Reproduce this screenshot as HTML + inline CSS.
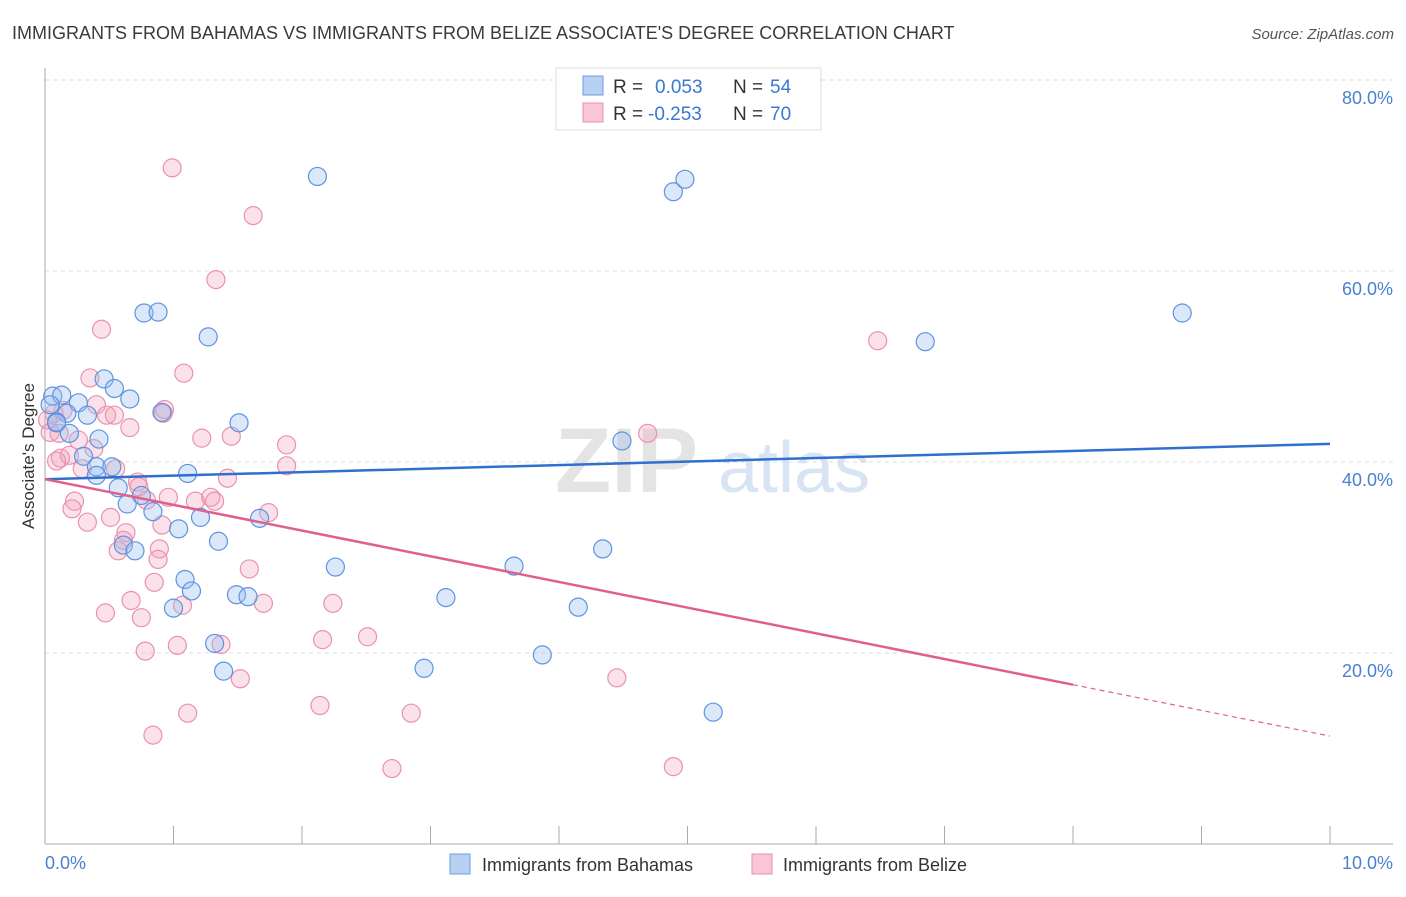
<!DOCTYPE html>
<html><head><meta charset="utf-8"><style>
body{margin:0;background:#fff;font-family:"Liberation Sans",sans-serif}
svg text{font-family:"Liberation Sans",sans-serif}
</style></head><body>
<svg id="chart" width="1406" height="892" xmlns="http://www.w3.org/2000/svg">
<text x="12" y="39" font-size="18" fill="#3a3a3a">IMMIGRANTS FROM BAHAMAS VS IMMIGRANTS FROM BELIZE ASSOCIATE'S DEGREE CORRELATION CHART</text>
<text x="1394" y="39" font-size="15" fill="#555" text-anchor="end" font-style="italic">Source: ZipAtlas.com</text>
<g>
<text x="555" y="492" font-size="92" fill="#e4e4e4" font-family="Liberation Serif" font-weight="bold">ZIP</text>
<text x="718" y="492" font-size="72" fill="#d8e4f4">atlas</text>
</g>
<g id="grid"></g>
<g id="axes"></g>
<g id="pts"></g>
<g id="trends"></g>
<text transform="translate(34,456) rotate(-90)" font-size="17" fill="#333" text-anchor="middle">Associate's Degree</text>
<g>
<rect x="556" y="68" width="265" height="62" fill="#fff" stroke="#ddd"/>
<rect x="583" y="76" width="20" height="19" fill="#b8d1f3" stroke="#6d9be0"/>
<rect x="583" y="103" width="20" height="19" fill="#f8c6d4" stroke="#e890aa"/>
<text x="613" y="93" font-size="19" fill="#333">R = </text>
<text x="655" y="93" font-size="19" fill="#3a78d4">0.053</text>
<text x="733" y="93" font-size="19" fill="#333">N = </text>
<text x="770" y="93" font-size="19" fill="#3a78d4">54</text>
<text x="613" y="120" font-size="19" fill="#333">R = </text>
<text x="648" y="120" font-size="19" fill="#3a78d4">-0.253</text>
<text x="733" y="120" font-size="19" fill="#333">N = </text>
<text x="770" y="120" font-size="19" fill="#3a78d4">70</text>
</g>
<g>
<rect x="450" y="854" width="20" height="20" fill="#b8d1f3" stroke="#6d9be0"/>
<text x="482" y="871" font-size="18" fill="#333">Immigrants from Bahamas</text>
<rect x="752" y="854" width="20" height="20" fill="#f8c6d4" stroke="#e890aa"/>
<text x="783" y="871" font-size="18" fill="#333">Immigrants from Belize</text>
</g>
</svg>
<script>
const xTicks=[0,1,2,3,4,5,6,7,8,9,10];
const yTicks=[20,40,60,80];
const yTickLabels=["20.0%","40.0%","60.0%","80.0%"];
const xLabels=["0.0%","10.0%"];
const bahamasX=[2.12,4.89,4.98,8.85,6.85,0.77,0.88,1.27,0.46,0.54,0.66,0.06,0.13,0.04,0.26,0.33,0.17,0.09,0.91,1.51,0.19,0.42,4.49,0.09,0.30,0.40,0.52,0.40,1.11,0.57,0.75,0.64,0.84,1.21,1.67,1.04,0.61,0.70,1.35,2.26,3.65,4.34,1.09,1.14,1.49,1.58,1.00,3.12,4.15,1.32,1.39,3.87,2.95,5.20];
const bahamasY=[69.9,68.3,69.6,55.6,52.6,55.6,55.7,53.1,48.7,47.7,46.6,46.9,47.0,46.0,46.2,44.9,45.1,44.2,45.2,44.1,43.0,42.4,42.2,44.1,40.6,39.5,39.5,38.6,38.8,37.3,36.5,35.6,34.8,34.2,34.1,33.0,31.3,30.7,31.7,29.0,29.1,30.9,27.7,26.5,26.1,25.9,24.7,25.8,24.8,21.0,18.1,19.8,18.4,13.8];
const belizeX=[0.99,1.62,1.33,6.48,0.44,0.35,1.08,0.14,0.40,0.48,0.54,0.93,0.92,0.07,0.02,0.04,0.11,0.66,1.22,1.45,1.88,4.69,0.26,0.38,0.12,0.19,0.09,0.29,0.55,1.88,1.42,0.72,0.73,0.23,0.21,0.79,0.96,1.17,1.29,1.32,1.74,0.51,0.33,0.91,0.63,0.61,0.57,0.89,0.88,0.85,1.59,0.67,0.47,0.75,1.07,1.70,2.24,0.78,1.03,1.37,2.16,2.51,1.52,4.45,1.11,2.85,2.14,0.84,2.70,4.89];
const belizeY=[70.8,65.8,59.1,52.7,53.9,48.8,49.3,45.4,46.0,44.9,44.9,45.5,45.1,45.1,44.4,43.1,43.0,43.6,42.5,42.7,41.8,43.0,42.3,41.4,40.4,40.7,40.1,39.3,39.3,39.6,38.3,37.9,37.4,35.9,35.1,36.0,36.3,35.9,36.3,35.9,34.7,34.2,33.7,33.4,32.6,31.8,30.7,30.9,29.8,27.4,28.8,25.5,24.2,23.7,25.0,25.2,25.2,20.2,20.8,20.9,21.4,21.7,17.3,17.4,13.7,13.7,14.5,11.4,7.9,8.1];
const bahamasTrend=[38.2,41.9];
const belizeTrend=[38.2,11.3];
const belizeSolidEnd=8.0;

const NS="http://www.w3.org/2000/svg";
const X=v=>45+v*128.5, Y=v=>844-v*9.55;
function mk(tag,attrs,parent){const e=document.createElementNS(NS,tag);for(const k in attrs)e.setAttribute(k,attrs[k]);parent.appendChild(e);return e;}
const grid=document.getElementById('grid'),axes=document.getElementById('axes');
yTicks.forEach((t,i)=>{
  const l=mk('line',{x1:45,x2:1393,y1:Y(t),y2:Y(t),stroke:'#ddd','stroke-dasharray':'4,4'},grid);
  
  
  const tx=mk('text',{x:1393,y:Y(t)+24,'font-size':18,fill:'#4a80d0','text-anchor':'end'},axes);
  tx.textContent=yTickLabels[i];
  
  
});
mk('line',{x1:45,x2:45,y1:68,y2:844,stroke:'#aaa'},axes);
mk('line',{x1:45,x2:1393,y1:844,y2:844,stroke:'#aaa'},axes);
xTicks.forEach(t=>{
  const l=mk('line',{x1:X(t),x2:X(t),y1:826,y2:844,stroke:'#aaa'},axes);
  
  
});
const xl0=mk('text',{x:45,y:869,'font-size':18,fill:'#4a80d0'},axes);xl0.textContent=xLabels[0];


const xl1=mk('text',{x:1393,y:869,'font-size':18,fill:'#4a80d0','text-anchor':'end'},axes);xl1.textContent=xLabels[1];


const pts=document.getElementById('pts');
belizeX.forEach((v,i)=>{
  const c=mk('circle',{cx:X(v),cy:Y(belizeY[i]),r:9,fill:'rgba(242,160,185,0.3)',stroke:'#ea92ad','stroke-width':1.2},pts);
  
  
});
bahamasX.forEach((v,i)=>{
  const c=mk('circle',{cx:X(v),cy:Y(bahamasY[i]),r:9,fill:'rgba(150,190,240,0.35)',stroke:'#5f93e0','stroke-width':1.2},pts);
  
  
});
const tr=document.getElementById('trends');
const bl=mk('line',{x1:X(0),y1:Y(bahamasTrend[0]),x2:X(10),y2:Y(bahamasTrend[1]),stroke:'#2f6fd0','stroke-width':2.5},tr);


const pv=x=>belizeTrend[0]+(belizeTrend[1]-belizeTrend[0])*x/10;
const pl=mk('line',{x1:X(0),y1:Y(pv(0)),x2:X(belizeSolidEnd),y2:Y(pv(belizeSolidEnd)),stroke:'#e0608c','stroke-width':2.5},tr);


const pd=mk('line',{x1:X(belizeSolidEnd),y1:Y(pv(belizeSolidEnd)),x2:X(10),y2:Y(pv(10)),stroke:'#e0608c','stroke-width':1.2,'stroke-dasharray':'5,4'},tr);


</script>
</body></html>
